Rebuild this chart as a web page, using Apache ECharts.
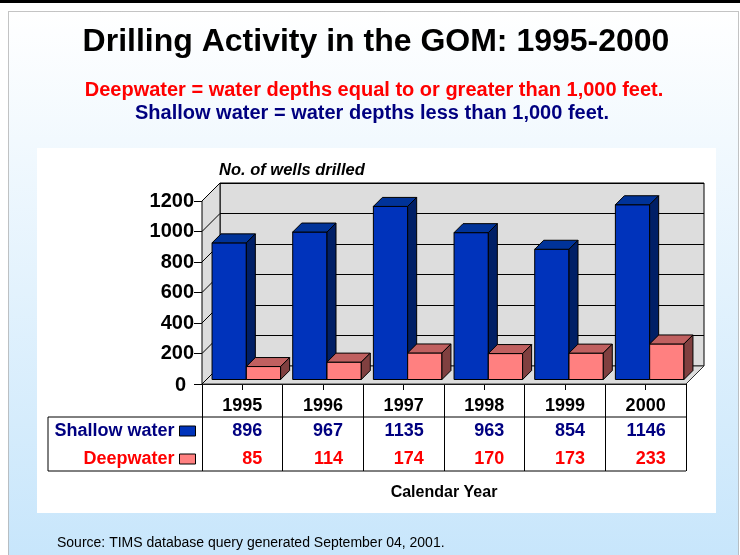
<!DOCTYPE html>
<html>
<head>
<meta charset="utf-8">
<script src="https://cdn.jsdelivr.net/npm/echarts@6/dist/echarts.min.js"></script>
<style>
  html, body { margin: 0; padding: 0; background: #fff; }
  #chart { width: 740px; height: 555px; }
</style>
</head>
<body>
<div id="chart"></div>
<script>
const years = ['1995', '1996', '1997', '1998', '1999', '2000']
const shallowWells = [896, 967, 1135, 963, 854, 1146]
const deepWells = [85, 114, 174, 170, 173, 233]
const wellTicks = [0, 200, 400, 600, 800, 1000, 1200]

const FONT = '"Liberation Sans", Arial, sans-serif'
const WALL = 18        // depth of the 3d box
const BAR_SHIFT = 4.5  // bars sit a bit behind the front plane
const BAR_DEPTH = 9
const front = { left: 202, top: 201, width: 484, height: 183 }
const tableTop = front.top + front.height
const tableBottom = tableTop + 87

const chart = echarts.init(document.getElementById('chart'))

function bar3d(colors, slot) {
  return function (params, api) {
    const top = api.coord([api.value(0), api.value(1)])
    const base = api.coord([api.value(0), 0])
    const w = api.size([1, 0])[0] * 0.425
    const x0 = top[0] - w + slot * w + BAR_SHIFT - 0.5
    const x1 = x0 + w
    const ty = top[1] - BAR_SHIFT
    const by = base[1] - BAR_SHIFT
    const d = BAR_DEPTH
    const line = { stroke: '#000', lineWidth: 1 }
    return {
      type: 'group',
      children: [
        { type: 'rect', shape: { x: x0, y: ty, width: w, height: by - ty }, style: Object.assign({ fill: colors[0] }, line) },
        { type: 'polygon', shape: { points: [[x0, ty], [x1, ty], [x1 + d, ty - d], [x0 + d, ty - d]] }, style: Object.assign({ fill: colors[1] }, line) },
        { type: 'polygon', shape: { points: [[x1, ty], [x1 + d, ty - d], [x1 + d, by - d], [x1, by]] }, style: Object.assign({ fill: colors[2] }, line) }
      ]
    }
  }
}

function walls(params, api) {
  const cs = params.coordSys
  const x = cs.x, y = cs.y, w = cs.width, h = cs.height
  const kids = [
    { type: 'polygon', shape: { points: [[x, y], [x + WALL, y - WALL], [x + WALL, y + h - WALL], [x, y + h]] },
      style: { fill: '#dddddd', stroke: '#000', lineWidth: 1 } },
    { type: 'polygon', shape: { points: [[x, y + h], [x + w, y + h], [x + w + WALL, y + h - WALL], [x + WALL, y + h - WALL]] },
      style: { fill: '#dddddd', stroke: '#333', lineWidth: 1 } }
  ]
  wellTicks.forEach(v => {
    const p = api.coord([0, v])
    kids.push({ type: 'line', shape: { x1: x, y1: p[1], x2: x + WALL, y2: p[1] - WALL }, style: { stroke: '#000', lineWidth: 1 } })
  })
  return { type: 'group', children: kids }
}

const option = {
  animation: false,
  textStyle: { fontFamily: FONT },
  graphic: [
    { type: 'rect', z: -20, shape: { x: 0, y: 0, width: 740, height: 3 }, style: { fill: '#000' } },
    { type: 'rect', z: -20, shape: { x: 8.5, y: 11.5, width: 730, height: 560 },
      style: {
        fill: new echarts.graphic.LinearGradient(0, 0, 0, 1, [
          { offset: 0, color: '#ffffff' }, { offset: 1, color: '#c6e5fb' }
        ]),
        stroke: '#888', lineWidth: 1, lineDash: [1, 1]
      } },
    { type: 'rect', z: -19, shape: { x: 37, y: 148, width: 679, height: 365 }, style: { fill: '#fff' } },
    { type: 'text', z: 10, style: { x: 376, y: 42, text: 'Drilling Activity in the GOM: 1995-2000', textAlign: 'center', textVerticalAlign: 'middle',
      font: 'bold 32px ' + FONT, fill: '#000' } },
    { type: 'text', z: 10, style: { x: 374, y: 90, text: 'Deepwater = water depths equal to or greater than 1,000 feet.', textAlign: 'center', textVerticalAlign: 'middle',
      font: 'bold 20px ' + FONT, fill: '#ff0000' } },
    { type: 'text', z: 10, style: { x: 372, y: 113, text: 'Shallow water = water depths less than 1,000 feet.', textAlign: 'center', textVerticalAlign: 'middle',
      font: 'bold 20px ' + FONT, fill: '#000080' } },
    { type: 'text', z: 10, style: { x: 57, y: 543, text: 'Source: TIMS database query generated September 04, 2001.', textAlign: 'left', textVerticalAlign: 'middle',
      font: '14px ' + FONT, fill: '#000' } },
    // table frame
    { type: 'polyline', z: 10, shape: { points: [[686, tableTop + 33], [48, tableTop + 33], [48, tableBottom], [686, tableBottom]] },
      style: { stroke: '#000', lineWidth: 1, fill: null } }
  ],
  legend: {
    orient: 'vertical',
    right: 740 - 196,
    top: 422,
    padding: 0,
    itemGap: 10,
    itemWidth: 16,
    itemHeight: 10,
    align: 'right',
    icon: 'rect',
    selectedMode: false,
    itemStyle: { borderColor: '#000', borderWidth: 1 },
    textStyle: { fontSize: 18, fontWeight: 'bold', fontFamily: FONT },
    data: [
      { name: 'Shallow water', textStyle: { color: '#000080' } },
      { name: 'Deepwater', textStyle: { color: '#ff0000' } }
    ]
  },
  grid: [
    Object.assign({ containLabel: false }, front),
    { left: front.left + WALL, top: front.top - WALL, width: front.width, height: front.height,
      show: true, backgroundColor: '#dddddd', borderColor: '#000', borderWidth: 1 }
  ],
  xAxis: [
    {
      gridIndex: 0, type: 'category', data: years, position: 'bottom',
      axisLine: { show: true, lineStyle: { color: '#000', width: 1 } },
      axisTick: { show: true, alignWithLabel: false, length: tableBottom - tableTop, lineStyle: { color: '#000', width: 1 } },
      axisLabel: {
        show: true, interval: 0, margin: 11,
        formatter: (value, i) => `{y|${value}}\n{s|${shallowWells[i]}}\n{d|${deepWells[i]}}`,
        rich: {
          y: { fontSize: 18, fontWeight: 'bold', color: '#000', width: 40, align: 'right', lineHeight: 22, fontFamily: FONT },
          s: { fontSize: 18, fontWeight: 'bold', color: '#000080', width: 40, align: 'right', lineHeight: 28, fontFamily: FONT },
          d: { fontSize: 18, fontWeight: 'bold', color: '#ff0000', width: 40, align: 'right', lineHeight: 28, fontFamily: FONT }
        }
      }
    },
    {
      gridIndex: 0, type: 'category', data: years, position: 'bottom',
      axisLine: { show: false },
      axisTick: { show: true, alignWithLabel: true, length: 6, lineStyle: { color: '#000' } },
      axisLabel: { show: false },
      name: 'Calendar Year', nameLocation: 'middle', nameGap: 101,
      nameTextStyle: { fontSize: 16, fontWeight: 'bold', color: '#000', fontFamily: FONT }
    },
    { gridIndex: 1, type: 'category', data: years, show: false }
  ],
  yAxis: [
    {
      gridIndex: 0, type: 'value', min: 0, max: 1200, interval: 200,
      axisLine: { show: true, lineStyle: { color: '#000' } },
      axisTick: { show: true, length: 8, lineStyle: { color: '#000' } },
      splitLine: { show: false },
      axisLabel: {
        margin: 8, fontSize: 20, fontWeight: 'bold', color: '#000', fontFamily: FONT,
        formatter: v => v === 0 ? '{z|0}' : String(v),
        rich: { z: { fontSize: 20, fontWeight: 'bold', color: '#000', padding: [2, 8, 0, 0], fontFamily: FONT } }
      },
      name: 'No. of wells drilled', nameLocation: 'end', nameGap: 31,
      nameTextStyle: { fontSize: 16.5, fontWeight: 'bold', fontStyle: 'italic', color: '#000', align: 'left',
        verticalAlign: 'middle', padding: [0, 0, 0, 17], fontFamily: FONT }
    },
    {
      gridIndex: 1, type: 'value', min: 0, max: 1200, interval: 200,
      axisLine: { show: false }, axisTick: { show: false }, axisLabel: { show: false },
      splitLine: { show: true, lineStyle: { color: '#000', width: 1 } }
    }
  ],
  series: [
    { type: 'custom', name: 'walls', xAxisIndex: 0, yAxisIndex: 0, z: 2, silent: true, renderItem: walls, data: [[0, 0]] },
    {
      type: 'custom', name: 'Shallow water', xAxisIndex: 0, yAxisIndex: 0, z: 3,
      itemStyle: { color: '#0033bb' },
      renderItem: bar3d(['#0033bb', '#003399', '#001f66'], 0),
      data: shallowWells.map((v, i) => [i, v])
    },
    {
      type: 'custom', name: 'Deepwater', xAxisIndex: 0, yAxisIndex: 0, z: 3,
      itemStyle: { color: '#ff8080' },
      renderItem: bar3d(['#ff8080', '#c06060', '#804040'], 1),
      data: deepWells.map((v, i) => [i, v])
    }
  ]
}

chart.setOption(option)
</script>
</body>
</html>
